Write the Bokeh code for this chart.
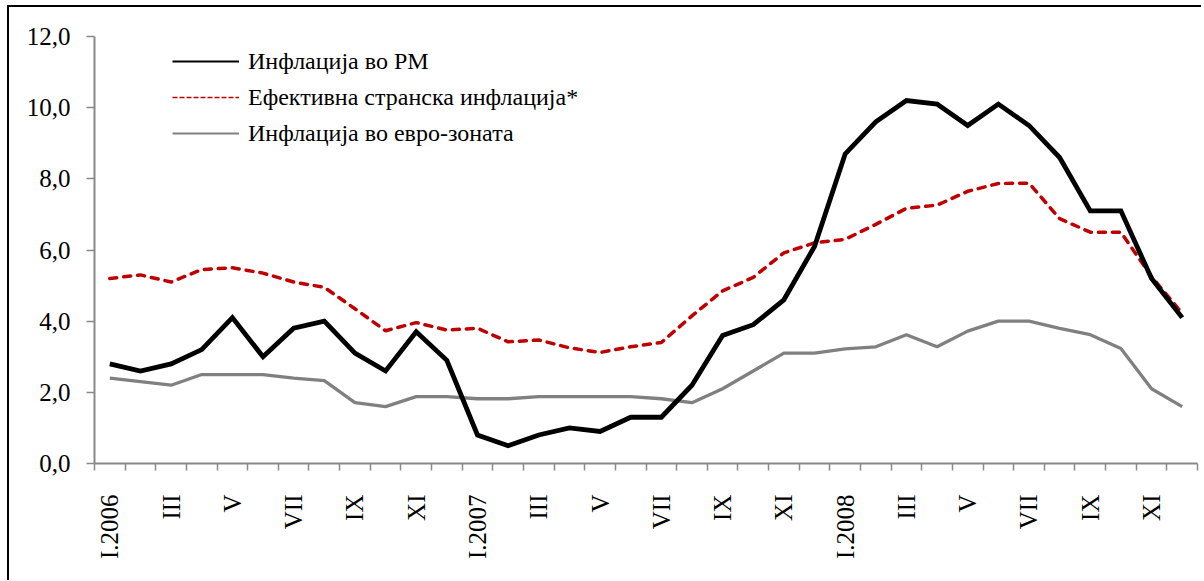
from bokeh.plotting import figure
from bokeh.models import Range1d, FixedTicker, Legend, LegendItem, ColumnDataSource
from bokeh.embed import file_html
from bokeh.resources import INLINE
from math import pi

# ---- data ----
months = [f"{m}.{y}" for y in (2006, 2007, 2008)
          for m in ["I", "II", "III", "IV", "V", "VI", "VII", "VIII", "IX", "X", "XI", "XII"]]
tick_labels = ["I.2006", "III", "V", "VII", "IX", "XI",
               "I.2007", "III", "V", "VII", "IX", "XI",
               "I.2008", "III", "V", "VII", "IX", "XI"]

inf_mk = [2.8, 2.6, 2.8, 3.2, 4.1, 3.0, 3.8, 4.0, 3.1, 2.6, 3.7, 2.9,
          0.8, 0.5, 0.8, 1.0, 0.9, 1.3, 1.3, 2.2, 3.6, 3.9, 4.6, 6.1,
          8.7, 9.6, 10.2, 10.1, 9.5, 10.1, 9.5, 8.6, 7.1, 7.1, 5.2, 4.1]
inf_foreign = [5.2, 5.3, 5.1, 5.45, 5.5, 5.35, 5.1, 4.95, 4.35, 3.73, 3.96, 3.75,
               3.8, 3.42, 3.47, 3.25, 3.12, 3.28, 3.4, 4.15, 4.85, 5.23, 5.92, 6.2,
               6.3, 6.72, 7.17, 7.26, 7.65, 7.87, 7.88, 6.88, 6.5, 6.5, 5.25, 4.22]
inf_euro = [2.4, 2.3, 2.2, 2.5, 2.5, 2.5, 2.4, 2.33, 1.71, 1.6, 1.88, 1.88,
            1.82, 1.82, 1.88, 1.88, 1.88, 1.88, 1.82, 1.71, 2.1, 2.6, 3.1, 3.1,
            3.22, 3.28, 3.62, 3.28, 3.72, 4.0, 4.0, 3.8, 3.62, 3.23, 2.1, 1.6]

series_names = ["Инфлација во РМ", "Ефективна странска инфлација*", "Инфлација во евро-зоната"]
y_ticks = [0, 2, 4, 6, 8, 10, 12]
y_tick_labels = ["0,0", "2,0", "4,0", "6,0", "8,0", "10,0", "12,0"]

FONT = "Liberation Serif"
AXIS_GRAY = "#898989"
NAN = float("nan")

# element offset (margin + border) so the chart box edge sits where the original has it
OFF_X, OFF_Y = 7 + 2, 5 + 2
MB_LEFT, MB_TOP, FW, FH = 94 - OFF_X, 36 - OFF_Y, 1103, 427

xs = [i + 0.5 for i in range(len(months))]
src = ColumnDataSource(dict(x=xs, mk=inf_mk, foreign=inf_foreign, euro=inf_euro))

p = figure(frame_width=FW, frame_height=FH,
           min_border_left=MB_LEFT, min_border_right=4, min_border_top=MB_TOP, min_border_bottom=117,
           x_range=Range1d(0, len(months)), y_range=Range1d(0, 12),
           output_backend="svg", toolbar_location=None)
p.styles = {"margin-left": "7px", "margin-top": "5px",
            "border-left": "2px solid black", "border-top": "2px solid black"}
p.outline_line_color = None
p.xgrid.visible = False
p.ygrid.visible = False
p.background_fill_color = "white"
p.border_fill_color = "white"

# series
p.line("x", "euro", source=src, line_color="#808080", line_width=3.3)
p.line("x", "foreign", source=src, line_color="#C00000", line_width=3.5,
       line_dash="7 7", line_cap="round")
p.line("x", "mk", source=src, line_color="black", line_width=4.8, line_join="miter")

# thin legend-only glyphs
empty = ColumnDataSource(dict(x=[NAN], y=[NAN]))
l1 = p.line("x", "y", source=empty, line_color="black", line_width=2)
l2 = p.line("x", "y", source=empty, line_color="#C00000", line_width=1.5, line_dash="5 2")
l3 = p.line("x", "y", source=empty, line_color="#808080", line_width=2)

legend = Legend(items=[LegendItem(label=series_names[0], renderers=[l1]),
                       LegendItem(label=series_names[1], renderers=[l2]),
                       LegendItem(label=series_names[2], renderers=[l3])],
                location=(78, 312), padding=0, margin=0, spacing=0,
                glyph_width=67, glyph_height=36, label_height=36, label_standoff=9,
                border_line_color=None, background_fill_alpha=0,
                label_text_font=FONT, label_text_font_size="24px", label_text_color="black")
p.add_layout(legend, "center")

# x axis
xa = p.xaxis[0]
major_x = [i + 0.5 for i in range(0, len(months), 2)]
xa.ticker = FixedTicker(ticks=major_x, minor_ticks=list(range(0, len(months) + 1)))
xa.major_label_overrides = {t: lab for t, lab in zip(major_x, tick_labels)}
xa.major_label_orientation = pi / 2
xa.major_tick_out = 0
xa.major_tick_in = 0
xa.minor_tick_out = 7
xa.minor_tick_in = 0
xa.minor_tick_line_color = AXIS_GRAY
xa.minor_tick_line_width = 1.5
xa.axis_line_color = AXIS_GRAY
xa.axis_line_width = 2
xa.major_label_standoff = 24
xa.major_label_text_font = FONT
xa.major_label_text_font_size = "25px"
xa.major_label_text_color = "black"

# y axis
ya = p.yaxis[0]
ya.ticker = FixedTicker(ticks=y_ticks, minor_ticks=[])
ya.major_label_overrides = {t: lab for t, lab in zip(y_ticks, y_tick_labels)}
ya.major_tick_out = 8
ya.major_tick_in = 0
ya.major_tick_line_color = AXIS_GRAY
ya.major_tick_line_width = 1.5
ya.minor_tick_line_color = None
ya.axis_line_color = AXIS_GRAY
ya.axis_line_width = 2
ya.major_label_standoff = 16
ya.major_label_text_font = FONT
ya.major_label_text_font_size = "25px"
ya.major_label_text_color = "black"

open("out.html", "w").write(file_html(p, INLINE))
